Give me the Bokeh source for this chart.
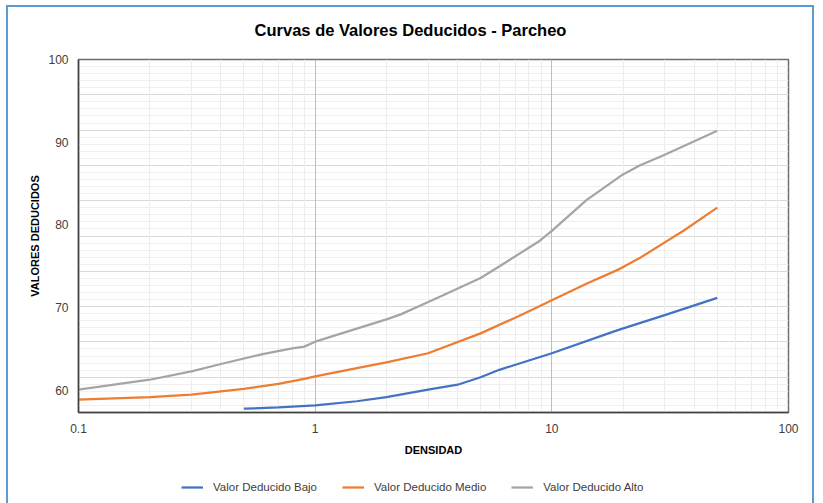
from bokeh.plotting import figure
from bokeh.layouts import column
from bokeh.models import FixedTicker, Legend, LegendItem, Range1d, Label
from bokeh.embed import file_html
from bokeh.resources import INLINE

# ---- data ----
bajo_x = [0.5, 0.7, 1, 1.5, 2, 3, 4, 5, 6, 10, 19, 30, 50]
bajo_y = [57.8, 57.95, 58.2, 58.7, 59.2, 60.1, 60.7, 61.6, 62.5, 64.5, 67.3, 69.1, 71.2]

medio_x = [0.1, 0.2, 0.3, 0.5, 0.7, 0.9, 1, 1.5, 2, 3, 5, 7, 8.3, 10, 14, 19.4, 23.5, 30, 36, 50]
medio_y = [58.9, 59.2, 59.5, 60.2, 60.8, 61.4, 61.7, 62.7, 63.4, 64.5, 66.9, 68.8, 69.8, 70.9, 72.9, 74.7, 76.0, 77.9, 79.3, 82.1]

alto_x = [0.1, 0.2, 0.3, 0.4, 0.6, 0.8, 0.9, 1, 2, 2.3, 2.8, 3.4, 5, 6.4, 8.9, 10, 14, 19.7, 23.5, 30, 50]
alto_y = [60.1, 61.3, 62.3, 63.2, 64.4, 65.1, 65.3, 65.9, 68.6, 69.2, 70.3, 71.4, 73.6, 75.5, 78.1, 79.3, 83.0, 86.0, 87.2, 88.5, 91.4]

series_names = ["Valor Deducido Bajo", "Valor Deducido Medio", "Valor Deducido Alto"]
x_ticks = [0.1, 1, 10, 100]
x_tick_labels = ["0.1", "1", "10", "100"]
y_ticks = [60, 70, 80, 90, 100]
y_tick_labels = ["60", "70", "80", "90", "100"]

title_text = "Curvas de Valores Deducidos - Parcheo"
x_title = "DENSIDAD"
y_title = "VALORES DEDUCIDOS"

# ---- styling ----
FONT = "Liberation Sans"
colors = ["#4472C4", "#ED7D31", "#A5A5A5"]
y_min, y_max = 57.34, 100.0
x_min, x_max = 0.1, 100.0

# ---- title strip ----
pt = figure(width=804, height=44, output_backend="svg", toolbar_location=None,
            x_range=Range1d(0, 1), y_range=Range1d(0, 1),
            min_border=0, x_axis_location=None, y_axis_location=None)
pt.grid.visible = False
pt.outline_line_color = None
pt.background_fill_color = "white"
pt.border_fill_color = "white"
pt.add_layout(Label(x=0.4676, y=0.48, text=title_text, text_align="center",
                    text_baseline="middle", text_font=FONT, text_font_size="16.5px",
                    text_font_style="bold", text_color="black"))

# ---- main chart ----
p = figure(width=804, height=416, x_axis_type="log",
           x_range=Range1d(x_min, x_max), y_range=Range1d(y_min, y_max),
           output_backend="svg", toolbar_location=None,
           min_border_left=70, min_border_right=24, min_border_top=8, min_border_bottom=55)
p.background_fill_color = "white"
p.border_fill_color = "white"
p.outline_line_color = "#6E6E6E"
p.outline_line_width = 1.5

# x ticks: majors at decades, minors at 2..9
minor_x = []
for d in x_ticks[:-1]:
    for k in range(2, 10):
        minor_x.append(d * k)
xt = FixedTicker(ticks=x_ticks, minor_ticks=minor_x)
p.xaxis.ticker = xt
p.xaxis.major_label_overrides = {v: s for v, s in zip(x_ticks, x_tick_labels)}
p.yaxis.ticker = FixedTicker(ticks=y_ticks)
p.yaxis.major_label_overrides = {v: s for v, s in zip(y_ticks, y_tick_labels)}

# grid: vertical at log ticks, horizontal evenly dividing the plot area
p.xgrid.ticker = xt
p.xgrid.grid_line_color = "#BFBFBF"
p.xgrid.minor_grid_line_color = "#EDEDED"
p.xgrid.grid_line_width = 1
step = (y_max - y_min) / 10.0
gy = [y_min + i * step for i in range(11)]
gy_minor = [y_min + i * step / 5.0 for i in range(51)]
p.ygrid.ticker = FixedTicker(ticks=gy, minor_ticks=gy_minor)
p.ygrid.grid_line_color = "#D9D9D9"
p.ygrid.minor_grid_line_color = "#F0F0F0"
p.ygrid.level = "image"
p.xgrid.level = "underlay"

for ax in (p.xaxis[0], p.yaxis[0]):
    ax.major_tick_in = 0
    ax.major_tick_out = 0
    ax.minor_tick_in = 0
    ax.minor_tick_out = 0
    ax.axis_line_color = "#404040"
    ax.axis_line_width = 1.5
    ax.major_label_text_font = FONT
    ax.major_label_text_font_size = "12px"
    ax.major_label_text_color = "#404040"
    ax.axis_label_text_font = FONT
    ax.axis_label_text_font_size = "11px"
    ax.axis_label_text_font_style = "bold"
    ax.axis_label_text_color = "black"

p.xaxis.axis_label = x_title
p.yaxis.axis_label = y_title
p.xaxis.major_label_standoff = 11
p.xaxis.axis_label_standoff = 8
p.yaxis.major_label_standoff = 10
p.yaxis.axis_label_standoff = 4

series = [(bajo_x, bajo_y), (medio_x, medio_y), (alto_x, alto_y)]
for (sx, sy), c in zip(series, colors):
    p.line(sx, sy, line_color=c, line_width=2.25)

# ---- legend strip (separate figure so it is not clipped) ----
# its ranges are set away from the data so only the legend keys show
pl = figure(width=804, height=36, output_backend="svg", toolbar_location=None,
            x_range=Range1d(1000, 1001), y_range=Range1d(1000, 1001),
            min_border=0, x_axis_location=None, y_axis_location=None)
pl.grid.visible = False
pl.outline_line_color = None
pl.background_fill_color = "white"
pl.border_fill_color = "white"
items = []
for name, (sx, sy), c in zip(series_names, series, colors):
    rr = pl.line(sx, sy, line_color=c, line_width=2.25)
    items.append(LegendItem(label=name, renderers=[rr]))
legend = Legend(items=items, orientation="horizontal", location=(103, 6),
                label_text_font=FONT, label_text_font_size="11.5px", label_text_color="#404040",
                glyph_width=22, label_standoff=10, spacing=25,
                border_line_color=None, background_fill_alpha=0,
                margin=0, padding=4)
pl.add_layout(legend, "center")

layout = column(pt, p, pl, spacing=0)
layout.styles = {"margin-left": "8px", "margin-top": "7px",
                 "box-shadow": "0 0 0 2px #5B9BD5"}

open("out.html", "w").write(file_html(layout, INLINE))
